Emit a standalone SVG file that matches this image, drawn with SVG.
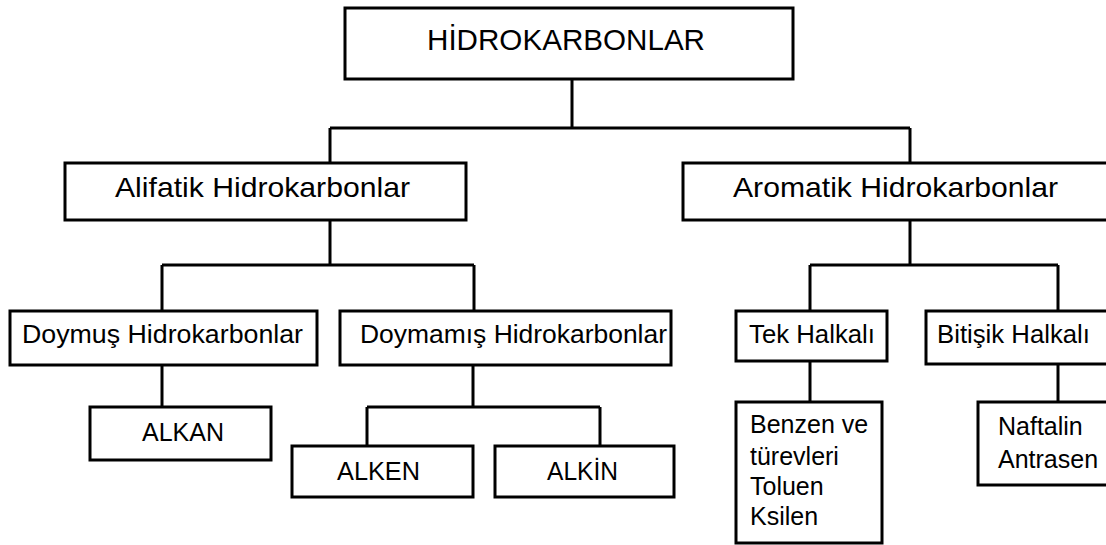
<svg xmlns="http://www.w3.org/2000/svg" width="1106" height="545" viewBox="0 0 1106 545">
<style>
.box{fill:#fff;stroke:#000;stroke-width:3}
.ln{fill:none;stroke:#000;stroke-width:3}
text{font-family:"Liberation Sans",Arial,sans-serif;fill:#000}
.t1{font-size:30px}
.t2{font-size:28px}
.t3{font-size:25px}
.t4{font-size:25px}
</style>
<rect width="1106" height="545" fill="#fff"/>
<g id="connectors">
<path class="ln" d="M572 80V128M330 128H910M330 128V162M910 128V162"/>
<path class="ln" d="M330 220V265M162 265H474M162 265V311M474 265V311"/>
<path class="ln" d="M910 220V265M810 265H1058M810 265V311M1058 265V311"/>
<path class="ln" d="M162 365V407"/>
<path class="ln" d="M473 365V407M367 407H600M367 407V446M600 407V446"/>
<path class="ln" d="M810 361V402M1058 364V402"/>
</g>
<g id="n-hidrokarbonlar"><rect class="box" x="345" y="8" width="448" height="71"/><text class="t1" x="427" y="50" textLength="278" lengthAdjust="spacingAndGlyphs">HİDROKARBONLAR</text></g>
<g id="n-alifatik"><rect class="box" x="65" y="163" width="401" height="57"/><text class="t2" x="115" y="197" textLength="295" lengthAdjust="spacingAndGlyphs">Alifatik Hidrokarbonlar</text></g>
<g id="n-aromatik"><rect class="box" x="683" y="163" width="430" height="57"/><text class="t2" x="733" y="197" textLength="325" lengthAdjust="spacingAndGlyphs">Aromatik Hidrokarbonlar</text></g>
<g id="n-doymus"><rect class="box" x="10" y="311" width="307" height="54"/><text class="t3" x="22" y="343" textLength="281" lengthAdjust="spacingAndGlyphs">Doymuş Hidrokarbonlar</text></g>
<g id="n-doymamis"><rect class="box" x="340" y="311" width="331" height="54"/><text class="t3" x="360" y="343" textLength="307" lengthAdjust="spacingAndGlyphs">Doymamış Hidrokarbonlar</text></g>
<g id="n-tek"><rect class="box" x="736" y="311" width="151" height="50"/><text class="t3" x="749" y="343" textLength="126" lengthAdjust="spacingAndGlyphs">Tek Halkalı</text></g>
<g id="n-bitisik"><rect class="box" x="926" y="311" width="190" height="53"/><text class="t3" x="937" y="343" textLength="153" lengthAdjust="spacingAndGlyphs">Bitişik Halkalı</text></g>
<g id="n-alkan"><rect class="box" x="90" y="407" width="181" height="53"/><text class="t3" x="142" y="441" textLength="82" lengthAdjust="spacingAndGlyphs">ALKAN</text></g>
<g id="n-alken"><rect class="box" x="292" y="446" width="181" height="51"/><text class="t3" x="337" y="480" textLength="83" lengthAdjust="spacingAndGlyphs">ALKEN</text></g>
<g id="n-alkin"><rect class="box" x="495" y="446" width="179" height="51"/><text class="t3" x="547" y="480" textLength="71" lengthAdjust="spacingAndGlyphs">ALKİN</text></g>
<g id="n-benzen"><rect class="box" x="736" y="402" width="146" height="141"/><text class="t4" x="750" y="433">Benzen ve</text><text class="t4" x="750" y="465">türevleri</text><text class="t4" x="750" y="495">Toluen</text><text class="t4" x="750" y="525">Ksilen</text></g>
<g id="n-naftalin"><rect class="box" x="978" y="402" width="140" height="83"/><text class="t4" x="998" y="435">Naftalin</text><text class="t4" x="998" y="468">Antrasen</text></g>
</svg>
